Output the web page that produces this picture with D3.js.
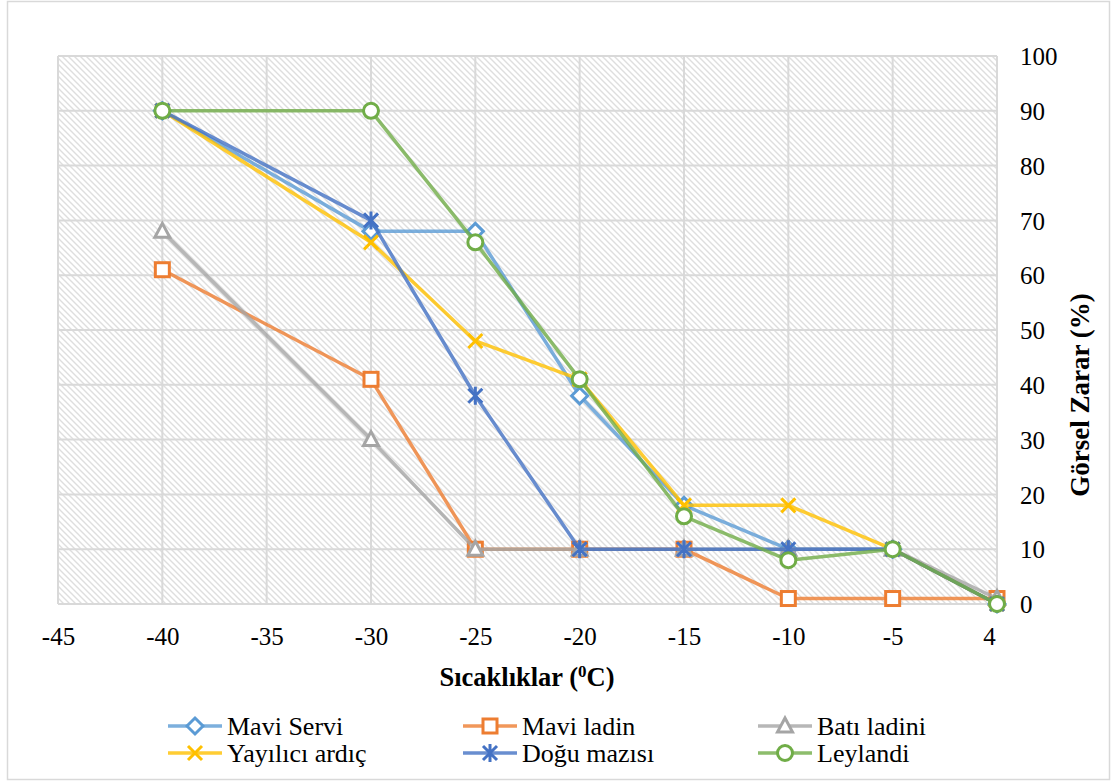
<!DOCTYPE html>
<html>
<head>
<meta charset="utf-8">
<script src="https://cdn.jsdelivr.net/npm/d3@7/dist/d3.min.js"></script>
<style>
  html, body { margin: 0; padding: 0; background: #fff; }
  svg text { font-family: "Liberation Serif", "Times New Roman", serif; fill: #000; }
</style>
</head>
<body>
<svg id="chart" width="1117" height="782"></svg>
<script>
// Temperature categories shown on the x axis (evenly spaced)
const categories = ["-45", "-40", "-35", "-30", "-25", "-20", "-15", "-10", "-5", "4"];
// Temperatures at which damage was scored
const measured = ["-40", "-30", "-25", "-20", "-15", "-10", "-5", "4"];
// Y ticks (visual damage %)
const yTicks = [0, 10, 20, 30, 40, 50, 60, 70, 80, 90, 100];

// Visual damage (%) per species, one value per measured temperature
const maviServi      = [90, 68, 68, 38, 18, 10, 10, 0];
const maviLadin      = [61, 41, 10, 10, 10, 1, 1, 1];
const batiLadini     = [68, 30, 10, 10, 10, 10, 10, 1];
const yayiliciArdic  = [90, 66, 48, 41, 18, 18, 10, 0];
const doguMazisi     = [90, 70, 38, 10, 10, 10, 10, 0];
const leylandi       = [90, 90, 66, 41, 16, 8, 10, 0];

const seriesNames  = ["Mavi Servi", "Mavi ladin", "Batı ladini", "Yayılıcı ardıç", "Doğu mazısı", "Leylandi"];
const seriesValues = [maviServi, maviLadin, batiLadini, yayiliciArdic, doguMazisi, leylandi];
const seriesColors = ["#5B9BD5", "#ED7D31", "#A5A5A5", "#FFC000", "#4472C4", "#70AD47"];
const seriesMarks  = ["diamond", "square", "triangle", "x", "star", "circle"];

const svg = d3.select("#chart");
const plot = { left: 58, right: 997, top: 56, bottom: 604 };

const x = d3.scalePoint().domain(categories).range([plot.left, plot.right]);
const y = d3.scaleLinear().domain([0, 100]).range([plot.bottom, plot.top]);

// Outer chart frame
svg.append("rect")
  .attr("x", 7.5).attr("y", 1.5).attr("width", 1102).attr("height", 778)
  .attr("fill", "#fff").attr("stroke", "#d9d9d9").attr("stroke-width", 1.5);

// Diagonal hatch fill of the plot area
const defs = svg.append("defs");
const pat = defs.append("pattern")
  .attr("id", "hatch").attr("patternUnits", "userSpaceOnUse")
  .attr("width", 6).attr("height", 6);
pat.append("rect").attr("width", 6).attr("height", 6).attr("fill", "#fff");
pat.append("path")
  .attr("d", "M-1,-1 L7,7 M-4,2 L2,8 M4,-2 L10,4")
  .attr("stroke", "#dedede").attr("stroke-width", 1.4);

svg.append("rect")
  .attr("x", plot.left).attr("y", plot.top)
  .attr("width", plot.right - plot.left).attr("height", plot.bottom - plot.top)
  .attr("fill", "url(#hatch)");

// Gridlines
const grid = svg.append("g").attr("stroke", "#d9d9d9").attr("stroke-width", 2);
grid.selectAll("line.h").data(yTicks).join("line")
  .attr("x1", plot.left).attr("x2", plot.right)
  .attr("y1", d => y(d)).attr("y2", d => y(d));
grid.selectAll("line.v").data(categories).join("line")
  .attr("x1", d => x(d)).attr("x2", d => x(d))
  .attr("y1", plot.top).attr("y2", plot.bottom);

// X axis labels
const xAxis = d3.axisBottom(x).tickSize(0).tickPadding(0);
const gx = svg.append("g").attr("transform", `translate(0,${plot.bottom})`).call(xAxis);
gx.select(".domain").remove();
gx.selectAll("text")
  .attr("y", 41).attr("dy", 0)
  .attr("dx", d => d === "4" ? -8 : 0)
  .style("font-size", "25px").style("font-family", "Liberation Serif, serif");

// Y axis labels on the right
const yAxis = d3.axisRight(y).tickValues(yTicks).tickSize(0).tickPadding(0);
const gy = svg.append("g").attr("transform", `translate(${plot.right},0)`).call(yAxis);
gy.select(".domain").remove();
gy.selectAll("text")
  .attr("x", 23).attr("dy", "0.35em").attr("text-anchor", "start")
  .style("font-size", "25px").style("font-family", "Liberation Serif, serif");

// Axis titles
const xt = svg.append("text")
  .attr("x", 527).attr("y", 686).attr("text-anchor", "middle")
  .style("font-size", "26.5px").style("font-weight", "bold");
xt.append("tspan").text("Sıcaklıklar (");
xt.append("tspan").attr("dy", -9).style("font-size", "17px").text("0");
xt.append("tspan").attr("dy", 9).text("C)");

svg.append("text")
  .attr("transform", "translate(1089,395) rotate(-90)")
  .attr("text-anchor", "middle")
  .style("font-size", "27px").style("font-weight", "bold")
  .text("Görsel Zarar (%)");

// Marker drawing
function drawMarker(g, type, color) {
  const sw = 3;
  if (type === "diamond") {
    g.append("path").attr("d", "M0,-8 L8,0 L0,8 L-8,0 Z")
      .attr("fill", "#fff").attr("stroke", color).attr("stroke-width", sw);
  } else if (type === "square") {
    g.append("rect").attr("x", -7).attr("y", -7).attr("width", 14).attr("height", 14)
      .attr("fill", "#fff").attr("stroke", color).attr("stroke-width", sw);
  } else if (type === "triangle") {
    g.append("path").attr("d", "M0,-8 L7.5,6 L-7.5,6 Z")
      .attr("fill", "#fff").attr("stroke", color).attr("stroke-width", sw);
  } else if (type === "x") {
    g.append("path").attr("d", "M-7,-7 L7,7 M-7,7 L7,-7")
      .attr("fill", "none").attr("stroke", color).attr("stroke-width", sw);
  } else if (type === "star") {
    g.append("path").attr("d", "M-7,-7 L7,7 M-7,7 L7,-7 M0,-9 L0,9")
      .attr("fill", "none").attr("stroke", color).attr("stroke-width", 3);
  } else if (type === "circle") {
    g.append("circle").attr("r", 7.5)
      .attr("fill", "#fff").attr("stroke", color).attr("stroke-width", sw);
  }
}

// Series lines and markers
const line = d3.line().x(d => x(d.t)).y(d => y(d.v));
seriesNames.forEach((name, i) => {
  const pts = measured.map((t, j) => ({ t, v: seriesValues[i][j] }));
  const g = svg.append("g");
  g.append("path").datum(pts)
    .attr("d", line)
    .attr("fill", "none")
    .attr("stroke", seriesColors[i])
    .attr("stroke-opacity", 0.8)
    .attr("stroke-width", 3.5)
    .attr("stroke-linejoin", "round");
  pts.forEach(p => {
    const m = g.append("g").attr("transform", `translate(${x(p.t)},${y(p.v)})`);
    drawMarker(m, seriesMarks[i], seriesColors[i]);
  });
});

// Legend: three columns, two rows
const legendCols = [168, 463, 758];
const legendRows = [726, 753];
seriesNames.forEach((name, i) => {
  const cx = legendCols[i % 3];
  const cy = legendRows[Math.floor(i / 3)];
  const g = svg.append("g").attr("transform", `translate(${cx},${cy})`);
  g.append("line").attr("x1", 0).attr("x2", 54).attr("y1", 0).attr("y2", 0)
    .attr("stroke", seriesColors[i]).attr("stroke-opacity", 0.8).attr("stroke-width", 3.5);
  const m = g.append("g").attr("transform", "translate(27,0)");
  drawMarker(m, seriesMarks[i], seriesColors[i]);
  g.append("text").attr("x", 59).attr("y", 0).attr("dy", "0.33em")
    .style("font-size", "26px").text(name);
});
</script>
</body>
</html>
